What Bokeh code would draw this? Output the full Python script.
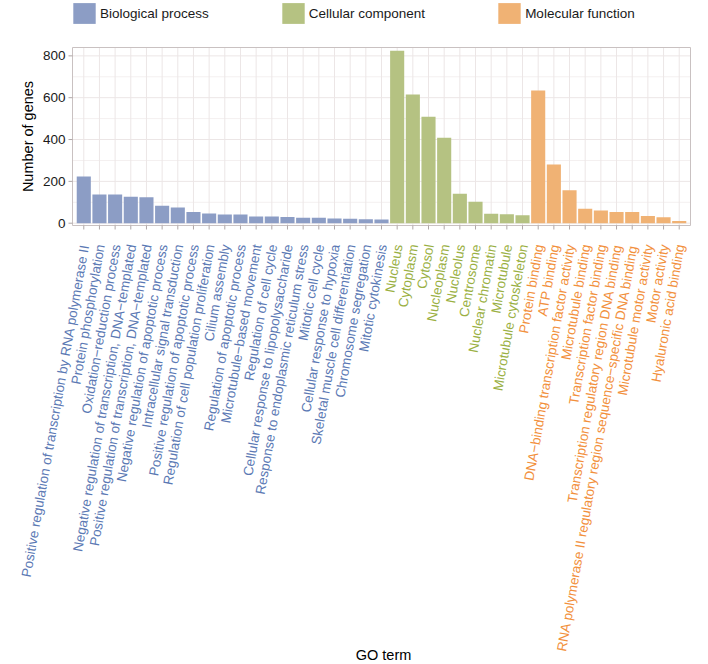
import math
from bokeh.plotting import figure
from bokeh.models import ColumnDataSource, Range1d, Legend, LegendItem
from bokeh.embed import file_html
from bokeh.resources import INLINE
from bokeh.core.properties import value

bp_terms = [
    "Positive regulation of transcription by RNA polymerase II",
    "Protein phosphorylation",
    "Oxidation\u2212reduction process",
    "Negative regulation of transcription, DNA\u2212templated",
    "Positive regulation of transcription, DNA\u2212templated",
    "Negative regulation of apoptotic process",
    "Intracellular signal transduction",
    "Positive regulation of apoptotic process",
    "Regulation of cell population proliferation",
    "Cilium assembly",
    "Regulation of apoptotic process",
    "Microtubule\u2212based movement",
    "Regulation of cell cycle",
    "Cellular response to lipopolysaccharide",
    "Response to endoplasmic reticulum stress",
    "Mitotic cell cycle",
    "Cellular response to hypoxia",
    "Skeletal muscle cell differentiation",
    "Chromosome segregation",
    "Mitotic cytokinesis",
]
bp_counts = [223, 137, 137, 126, 124, 83, 75, 54, 46, 41, 41, 32, 32, 30, 26, 26, 22, 21, 19, 18]

cc_terms = [
    "Nucleus", "Cytoplasm", "Cytosol", "Nucleoplasm", "Nucleolus", "Centrosome",
    "Nuclear chromatin", "Microtubule", "Microtubule cytoskeleton",
]
cc_counts = [824, 615, 509, 409, 141, 102, 45, 43, 38]

mf_terms = [
    "Protein binding",
    "ATP binding",
    "DNA\u2212binding transcription factor activity",
    "Microtubule binding",
    "Transcription factor binding",
    "Transcription regulatory region DNA binding",
    "RNA polymerase II regulatory region sequence\u2212specific DNA binding",
    "Microtubule motor activity",
    "Motor activity",
    "Hyaluronic acid binding",
]
mf_counts = [634, 281, 158, 69, 61, 54, 54, 34, 29, 11]

y_ticks = [0, 200, 400, 600, 800]
y_tick_labels = ["0", "200", "400", "600", "800"]

categories = ["Biological process", "Cellular component", "Molecular function"]
bar_colors = ["#8C9DC5", "#B5C282", "#F0B274"]
text_colors = ["#5B79B4", "#9AB043", "#F2903C"]

groups = [(bp_terms, bp_counts), (cc_terms, cc_counts), (mf_terms, mf_counts)]
all_terms = bp_terms + cc_terms + mf_terms
n_terms = len(all_terms)

FONT = "Liberation Sans"
GRID = "#ECE6E6"
GRID_MINOR = "#F4F0F0"
BORDER = "#C9C1C1"
TICK = "#AFA7A7"

# ---- layout (pixels) ----
W, H = 708, 664
FL, FR, FT, FB = 72, 690, 47, 225          # plotting panel edges
X0, X1 = 0.28, n_terms + 0.72               # discrete axis limits
Y_LO, Y_HI = -11, 840                       # count axis limits
PX = (FR - FL) / (X1 - X0)                  # px per category
CPX = (FB - FT) / (Y_HI - Y_LO)             # px per gene


def xd(px):   # page x -> data x
    return X0 + (px - FL) / PX


def yd(py):   # page y -> data y
    return Y_HI - (py - FT) / CPX


p = figure(width=W, height=H,
           x_range=Range1d(xd(0), xd(W)), y_range=Range1d(yd(H), yd(0)),
           x_axis_location=None, y_axis_location=None,
           output_backend="svg", toolbar_location=None, min_border=0,
           outline_line_color=None, background_fill_color="white",
           border_fill_color="white")
p.grid.visible = False

xpos = list(range(1, n_terms + 1))
minor_ticks = [(a + b) / 2 for a, b in zip(y_ticks[:-1], y_ticks[1:])]

# panel grid
p.segment(x0=X0, x1=X1, y0=minor_ticks, y1=minor_ticks, line_color=GRID_MINOR, line_width=1)
p.segment(x0=X0, x1=X1, y0=y_ticks, y1=y_ticks, line_color=GRID, line_width=1)
p.segment(x0=xpos, x1=xpos, y0=Y_LO, y1=Y_HI, line_color=GRID, line_width=1)

# bars
bar_renderers = []
start = 1
lab_x, lab_colors = [], []
for (terms, counts), bc, tc in zip(groups, bar_colors, text_colors):
    xs = list(range(start, start + len(terms)))
    start += len(terms)
    src = ColumnDataSource(dict(x=xs, term=terms, count=counts))
    r = p.vbar(x="x", top="count", bottom=0, width=0.9, source=src,
               fill_color=bc, line_color=None)
    bar_renderers.append(r)
    lab_x += xs
    lab_colors += [tc] * len(terms)

# panel border
p.quad(left=X0, right=X1, bottom=Y_LO, top=Y_HI, fill_color=None,
       line_color=BORDER, line_width=1)

# y axis: ticks, labels, title
p.segment(x0=xd(FL - 4), x1=X0, y0=y_ticks, y1=y_ticks, line_color=TICK, line_width=1)
p.text(x=xd(FL - 7), y=y_ticks, text=y_tick_labels,
       text_align="right", text_baseline="middle",
       text_font=value(FONT), text_font_size=value("13.5px"), text_color="#1A1A1A")
p.text(x=[xd(27.5)], y=[(Y_LO + Y_HI) / 2], text=["Number of genes"],
       angle=math.pi / 2, text_align="center", text_baseline="middle",
       text_font=value(FONT), text_font_size=value("14.5px"), text_color="#000000")

# x axis: ticks, coloured rotated category names, title
lab_src = ColumnDataSource(dict(x=lab_x, term=all_terms, tcolor=lab_colors))
p.segment(x0="x", x1="x", y0=Y_LO, y1=yd(FB + 4), source=lab_src,
          line_color=TICK, line_width=1)
p.text(x="x", y=yd(244), text="term", source=lab_src, x_offset=1,
       text_color="tcolor", angle=math.radians(80),
       text_align="right", text_baseline="middle",
       text_font=value(FONT), text_font_size=value("13.5px"))
p.text(x=[(1 + n_terms) / 2], y=[yd(654)], text=["GO term"], x_offset=2,
       text_align="center", text_baseline="middle",
       text_font=value(FONT), text_font_size=value("14.5px"), text_color="#000000")

# legend across the top
legend = Legend(
    items=[LegendItem(label=c, renderers=[r]) for c, r in zip(categories, bar_renderers)],
    orientation="horizontal", location=(70, H - 26),
    label_text_font=FONT, label_text_font_size="13.5px", label_text_color="#1A1A1A",
    glyph_width=28, glyph_height=26, label_standoff=2, spacing=70,
    padding=0, margin=0, border_line_color=None, background_fill_alpha=0,
)
p.add_layout(legend)

open("out.html", "w").write(file_html(p, INLINE))
